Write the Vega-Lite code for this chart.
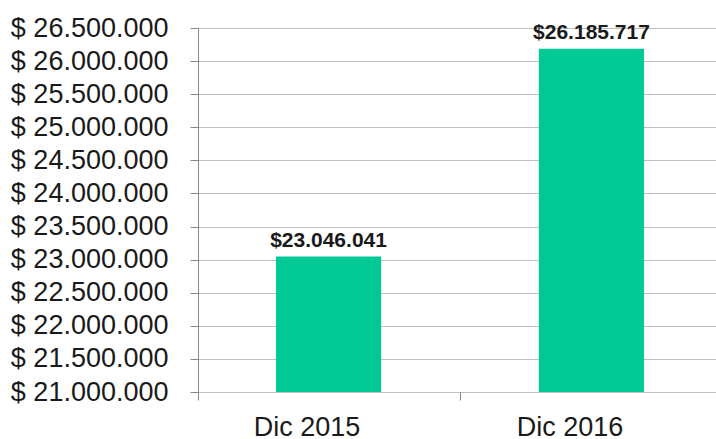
{
  "$schema": "https://vega.github.io/schema/vega-lite/v6.json",
  "width": 518,
  "height": 364,
  "autosize": {"type": "none"},
  "padding": {"left": 198, "top": 28, "right": 0, "bottom": 47},
  "background": "white",
  "data": {
    "values": [
      {"periodo": "Dic 2015", "valor": 23046041, "etiqueta": "$23.046.041"},
      {"periodo": "Dic 2016", "valor": 26185717, "etiqueta": "$26.185.717"}
    ]
  },
  "encoding": {
    "x": {
      "field": "periodo",
      "type": "nominal",
      "sort": null,
      "scale": {"paddingInner": 0.6, "paddingOuter": 0.285, "align": 0.52},
      "axis": {
        "title": null,
        "labelAngle": 0,
        "domain": false,
        "grid": false,
        "tickOffset": -131,
        "tickSize": 8,
        "tickColor": "#888888",
        "labelFont": "Liberation Sans",
        "labelFontSize": 27,
        "labelColor": "#1a1a1a",
        "labelPadding": 14,
        "labelOffset": 109
      }
    },
    "y": {
      "field": "valor",
      "type": "quantitative",
      "scale": {"domain": [21000000, 26500000], "zero": false, "nice": false},
      "axis": {
        "title": null,
        "values": [21000000, 21500000, 22000000, 22500000, 23000000, 23500000, 24000000, 24500000, 25000000, 25500000, 26000000, 26500000],
        "labelExpr": "'$ ' + replace(replace(format(datum.value, ',.0f'), ',', '.'), ',', '.')",
        "domainColor": "#888888",
        "tickColor": "#888888",
        "tickSize": 8,
        "gridColor": "#c0c0c0",
        "labelFont": "Liberation Sans",
        "labelFontSize": 27,
        "labelColor": "#1a1a1a",
        "labelPadding": 22,
        "labelBaseline": "middle"
      }
    }
  },
  "layer": [
    {"mark": {"type": "bar", "color": "#00c996", "clip": true}},
    {
      "mark": {"type": "text", "font": "Liberation Sans", "fontSize": 21, "fontWeight": "bold", "color": "#1a1a1a", "baseline": "alphabetic", "dy": -10},
      "encoding": {"text": {"field": "etiqueta"}}
    }
  ],
  "config": {"view": {"stroke": null}}
}
